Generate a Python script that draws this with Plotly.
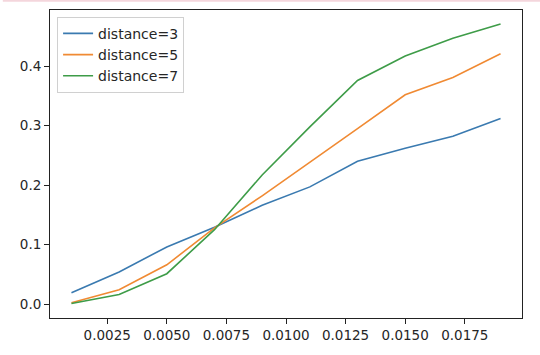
import plotly.graph_objects as go

x_vals = [0.001, 0.003, 0.005, 0.007, 0.009, 0.011, 0.013, 0.015, 0.017, 0.019]
dist3 = [0.019, 0.054, 0.096, 0.129, 0.166, 0.197, 0.240, 0.262, 0.282, 0.312]
dist5 = [0.002, 0.024, 0.066, 0.128, 0.182, 0.238, 0.295, 0.352, 0.381, 0.421]
dist7 = [0.001, 0.016, 0.051, 0.125, 0.217, 0.298, 0.376, 0.417, 0.447, 0.471]
names = ["distance=3", "distance=5", "distance=7"]
colors = ["#3a7ab0", "#f08a33", "#3e9c48"]
x_ticks = [0.0025, 0.0050, 0.0075, 0.0100, 0.0125, 0.0150, 0.0175]
y_ticks = [0.0, 0.1, 0.2, 0.3, 0.4]

fig = go.Figure()
for name, ys, c in zip(names, [dist3, dist5, dist7], colors):
    fig.add_trace(go.Scatter(x=x_vals, y=ys, mode="lines", name=name,
                             line=dict(color=c, width=1.6)))

axis_common = dict(showline=True, linecolor="#222", linewidth=1, mirror=True,
                   ticks="outside", ticklen=5, tickwidth=1, tickcolor="#222",
                   showgrid=False, zeroline=False,
                   tickfont=dict(family="DejaVu Sans", size=13.5, color="#262626"))

fig.update_xaxes(range=[0.0001, 0.0199], tickvals=x_ticks, tickformat=".4f", **axis_common)
fig.update_yaxes(range=[-0.0235, 0.4945], tickvals=y_ticks, tickformat=".1f", **axis_common)

fig.update_layout(
    width=540, height=355,
    margin=dict(l=50, r=18, t=10, b=37),
    paper_bgcolor="white", plot_bgcolor="white",
    font=dict(family="DejaVu Sans", size=13, color="#262626"),
    legend=dict(x=0.015, y=0.978, xanchor="left", yanchor="top",
                bgcolor="rgba(255,255,255,0.8)", bordercolor="#d0d0d0", borderwidth=1,
                font=dict(size=14), tracegroupgap=0, itemwidth=30),
    showlegend=True,
)
fig.add_shape(type="line", xref="paper", yref="paper", x0=-0.1, x1=1.05, y0=1.03, y1=1.03,
              line=dict(color="#f4d6dc", width=2))

fig.write_html("out.html")
